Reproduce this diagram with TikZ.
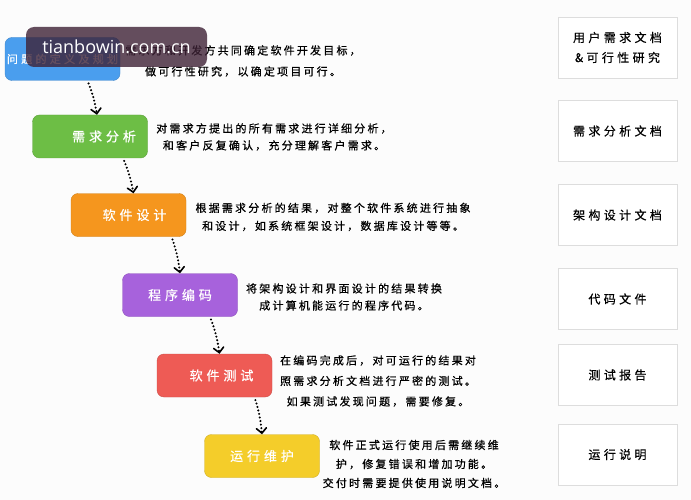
\documentclass[tikz,border=0pt]{standalone}
\usepackage{fontspec}
\newfontfamily\cjk[LetterSpace=20,FakeBold=0.6]{Noto Sans CJK SC}
\newfontfamily\cjkbox[LetterSpace=30,FakeBold=0.6]{Noto Sans CJK SC}
\newfontfamily\cjkdoc[LetterSpace=28,FakeBold=0.4]{Noto Sans CJK SC}
\newfontfamily\wmfont{Open Sans}
\usetikzlibrary{arrows.meta,positioning}
\definecolor{sblue}{HTML}{4A9EEE}
\definecolor{sgreen}{HTML}{6DBE45}
\definecolor{sorange}{HTML}{F5961E}
\definecolor{spurple}{HTML}{A762DC}
\definecolor{sred}{HTML}{EE5B55}
\definecolor{syellow}{HTML}{F4CD2A}
\definecolor{docline}{HTML}{DDDDDD}
\definecolor{wmfill}{HTML}{3E2236}

\begin{document}
\begin{tikzpicture}
[x=1pt,y=-1pt,
stage/.style={shape=rectangle,rounded corners=7pt,minimum width=115pt,minimum height=43pt,
  inner sep=0pt,text=white,font=\cjkbox\fontsize{13}{15}\selectfont},
desc/.style={align=center,inner sep=0pt,font=\cjk\fontsize{11}{19}\selectfont},
doc/.style={shape=rectangle,draw=docline,fill=white,minimum width=119pt,minimum height=61pt,
  align=center,font=\cjkdoc\fontsize{12}{20}\selectfont},
flow/.style={line width=2.3pt,dash pattern=on 0pt off 3.6pt,line cap=round,shorten <=3pt,
  -{Straight Barb[length=5pt,width=10pt,line width=1.6pt,line cap=round]}}]
\useasboundingbox[fill=white!98!gray] (0,0) rectangle (691,500);
%%
% stages
%%
\node[stage,fill=sblue,draw=sblue!85!black,font=\cjkbox\fontsize{11}{13}\selectfont] (b1) at (62.5,59) {问题的定义及规划};
\node[stage,fill=sgreen,draw=sgreen!85!black] (b2) at (90,136.5) {\hspace*{28pt}需求分析};
\node[stage,fill=sorange,draw=sorange!85!black] (b3) at (128.5,215) {\hspace*{12pt}软件设计};
\node[stage,fill=spurple,draw=spurple!85!black] (b4) at (180,295) {程序编码};
\node[stage,fill=sred,draw=sred!85!black] (b5) at (214.5,375.5) {\hspace*{14pt}软件测试};
\node[stage,fill=syellow,draw=syellow!85!black] (b6) at (262,456) {运行维护};
%%
% flow
%%
\draw[flow] ([xshift=25pt]b1.south) to[bend left=6] ([xshift=7pt]b2.north);
\draw[flow] ([xshift=33pt]b2.south) to[bend left=6] ([xshift=5pt]b3.north);
\draw[flow] ([xshift=43pt]b3.south) to[bend left=6] (b4.north);
\draw[flow] ([xshift=30pt]b4.south) to[bend left=6] ([xshift=5pt]b5.north);
\draw[flow] ([xshift=40pt]b5.south) to[bend left=6] (b6.north);
%%
% descriptions
%%
\node[desc,font=\cjk\fontsize{11}{21}\selectfont] (d1) at (243,61) {需求方和开发方共同确定软件开发目标，\\做可行性研究，以确定项目可行。};
\node[desc,font=\cjk\fontsize{11}{17}\selectfont] (d2) at (274,137) {对需求方提出的所有需求进行详细分析，\\和客户反复确认，充分理解客户需求。};
\node[desc,font=\cjk\fontsize{11}{18}\selectfont] (d3) at (333,217) {根据需求分析的结果，对整个软件系统进行抽象\\和设计，如系统框架设计，数据库设计等等。};
\node[desc,font=\cjk\fontsize{11}{17}\selectfont] (d4) at (344,297) {将架构设计和界面设计的结果转换\\成计算机能运行的程序代码。};
\node[desc,font=\cjk\fontsize{11}{20.5}\selectfont] (d5) at (378,381) {在编码完成后，对可运行的结果对\\照需求分析文档进行严密的测试。\\如果测试发现问题，需要修复。};
\node[desc] (d6) at (414,464) {软件正式运行使用后需继续维\\护，修复错误和增加功能。\\交付时需要提供使用说明文档。};
%%
% documents
%%
\node[doc] (doc1) at (617.5,47.5) {用户需求文档\\\&可行性研究};
\node[doc] (doc2) at (617.5,131) {需求分析文档};
\node[doc] (doc3) at (617.5,215) {架构设计文档};
\node[doc] (doc4) at (617.5,299) {代码文件};
\node[doc] (doc5) at (617.5,375) {测试报告};
\node[doc] (doc6) at (617.5,454.5) {运行说明};
%%
% watermark
%%
\node[shape=rectangle,rounded corners=8pt,fill=wmfill,fill opacity=.8,text opacity=1,
  text=white,minimum width=181pt,minimum height=40pt,font=\wmfont\fontsize{18}{20}\selectfont]
  (wm) at (116.5,47) {tianbowin.com.cn};
\end{tikzpicture}
\end{document}
